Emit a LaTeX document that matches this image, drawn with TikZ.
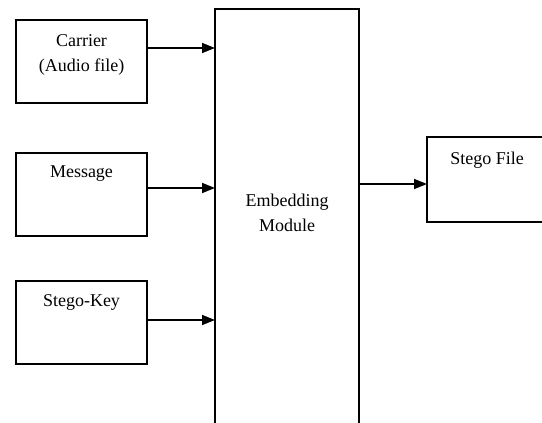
\documentclass[tikz,border=0pt]{standalone}
\usepackage{fontspec}
\setmainfont{Liberation Serif}
\usetikzlibrary{positioning,arrows.meta}

\begin{document}
\begin{tikzpicture}[x=1pt, y=-1pt, line width=1.6pt,
  box/.style={draw, minimum width=131pt, minimum height=83pt, inner sep=0pt, outer sep=0pt},
  txt/.style={font=\fontsize{18}{25}\selectfont, align=center, inner sep=0pt},
  arr/.style={-{Triangle[length=13pt,width=10pt]}}]
  \useasboundingbox (0,0) rectangle (542,423);
  \clip (0,0) rectangle (542,423);
  \node (carrier) [box, label={[txt, anchor=north, yshift=-14pt]north:Carrier\\(Audio file)}] at (81.5,61.5) {};
  \node (message) [box, below=50pt of carrier, label={[txt, anchor=north, yshift=-12pt]north:Message}] {};
  \node (key) [box, below=45pt of message, label={[txt, anchor=north, yshift=-13pt]north:Stego-Key}] {};
  \node (embed) [box, minimum width=144pt, minimum height=431pt,
    label={[txt, yshift=12pt]center:Embedding\\Module}] at (287,224.5) {};
  \node (stego) [box, minimum width=133pt, minimum height=85pt,
    label={[txt, anchor=north, xshift=-6.5pt, yshift=-14pt]north:Stego File}] at (493.5,179.5) {};
  \path ([yshift=13.5pt]carrier.east) coordinate (c1)
        ([yshift=6.5pt]message.east) coordinate (c2)
        ([yshift=2.5pt]key.east) coordinate (c3)
        ([yshift=-4.5pt]stego.west) coordinate (c4);
  \path[arr]
    (c1) edge (c1 -| embed.west)
    (c2) edge (c2 -| embed.west)
    (c3) edge (c3 -| embed.west)
    (c4 -| embed.east) edge (c4);
\end{tikzpicture}
\end{document}
